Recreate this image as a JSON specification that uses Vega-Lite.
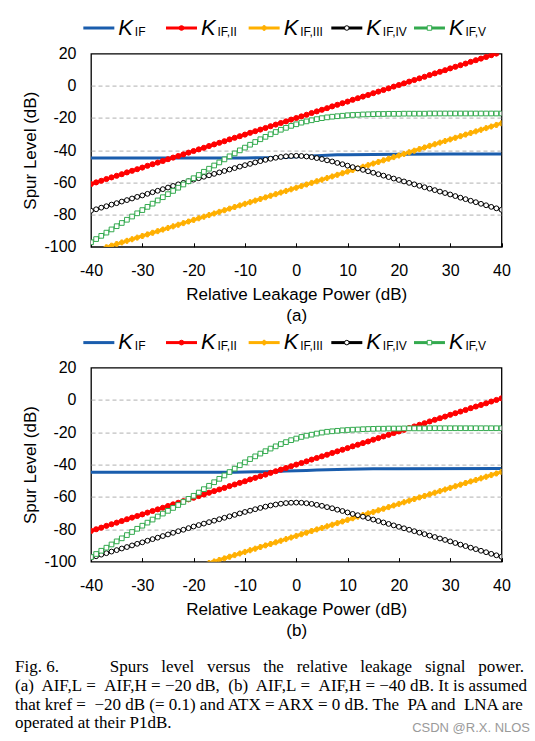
{
"$schema": "https://vega.github.io/schema/vega-lite/v6.json",
"padding": {"left": 14, "top": 14.6, "right": 0, "bottom": 0},
"spacing": 5,
"config": {
  "font": "Liberation Sans",
  "view": {"stroke": "#000", "strokeWidth": 1.3},
  "axis": {"labelFont": "Liberation Sans", "labelFontSize": 16, "labelColor": "#000", "titleFont": "Liberation Sans", "titleFontSize": 17, "titleFontWeight": "normal", "titleColor": "#000"}
},
"title": {"text": "CSDN @R.X. NLOS", "orient": "bottom", "anchor": "end", "frame": "bounds", "offset": -10, "fontSize": 13, "font": "Liberation Sans", "fontWeight": "normal", "color": "#9a9a9a", "baseline": "top"},
"resolve": {"scale": {"x": "independent", "y": "independent", "strokeWidth": "independent", "size": "independent"}},
"datasets": {
"leg": [{"k":"KIF","sub":"IF"},{"k":"KIF,II","sub":"IF,II"},{"k":"KIF,III","sub":"IF,III"},{"k":"KIF,IV","sub":"IF,IV"},{"k":"KIF,V","sub":"IF,V"}],
"a": [
{"x":-40,"k":"KIF","y":-44.8},{"x":-20,"k":"KIF","y":-44.8},{"x":-10,"k":"KIF","y":-44.8},{"x":-6,"k":"KIF","y":-44.7},{"x":-4,"k":"KIF","y":-44.6},{"x":-2,"k":"KIF","y":-44.4},{"x":0,"k":"KIF","y":-44.1},{"x":2,"k":"KIF","y":-43.7},{"x":4,"k":"KIF","y":-43.4},{"x":6,"k":"KIF","y":-43.1},{"x":8,"k":"KIF","y":-42.9},{"x":10,"k":"KIF","y":-42.8},{"x":15,"k":"KIF","y":-42.6},{"x":20,"k":"KIF","y":-42.5},{"x":30,"k":"KIF","y":-42.4},{"x":40,"k":"KIF","y":-42.4},
{"x":-40,"k":"KIF,II","y":-61.0},{"x":-39,"k":"KIF,II","y":-60.0},{"x":-38,"k":"KIF,II","y":-59.0},{"x":-37,"k":"KIF,II","y":-57.9},{"x":-36,"k":"KIF,II","y":-56.9},{"x":-35,"k":"KIF,II","y":-55.9},{"x":-34,"k":"KIF,II","y":-54.9},{"x":-33,"k":"KIF,II","y":-53.8},{"x":-32,"k":"KIF,II","y":-52.8},{"x":-31,"k":"KIF,II","y":-51.8},
{"x":-30,"k":"KIF,II","y":-50.8},{"x":-29,"k":"KIF,II","y":-49.7},{"x":-28,"k":"KIF,II","y":-48.7},{"x":-27,"k":"KIF,II","y":-47.7},{"x":-26,"k":"KIF,II","y":-46.7},{"x":-25,"k":"KIF,II","y":-45.6},{"x":-24,"k":"KIF,II","y":-44.6},{"x":-23,"k":"KIF,II","y":-43.6},{"x":-22,"k":"KIF,II","y":-42.6},{"x":-21,"k":"KIF,II","y":-41.5},
{"x":-20,"k":"KIF,II","y":-40.5},{"x":-19,"k":"KIF,II","y":-39.5},{"x":-18,"k":"KIF,II","y":-38.5},{"x":-17,"k":"KIF,II","y":-37.4},{"x":-16,"k":"KIF,II","y":-36.4},{"x":-15,"k":"KIF,II","y":-35.4},{"x":-14,"k":"KIF,II","y":-34.4},{"x":-13,"k":"KIF,II","y":-33.3},{"x":-12,"k":"KIF,II","y":-32.3},{"x":-11,"k":"KIF,II","y":-31.3},
{"x":-10,"k":"KIF,II","y":-30.3},{"x":-9,"k":"KIF,II","y":-29.2},{"x":-8,"k":"KIF,II","y":-28.2},{"x":-7,"k":"KIF,II","y":-27.2},{"x":-6,"k":"KIF,II","y":-26.2},{"x":-5,"k":"KIF,II","y":-25.1},{"x":-4,"k":"KIF,II","y":-24.1},{"x":-3,"k":"KIF,II","y":-23.1},{"x":-2,"k":"KIF,II","y":-22.1},{"x":-1,"k":"KIF,II","y":-21.0},
{"x":0,"k":"KIF,II","y":-20.0},{"x":1,"k":"KIF,II","y":-19.0},{"x":2,"k":"KIF,II","y":-18.0},{"x":3,"k":"KIF,II","y":-16.9},{"x":4,"k":"KIF,II","y":-15.9},{"x":5,"k":"KIF,II","y":-14.9},{"x":6,"k":"KIF,II","y":-13.9},{"x":7,"k":"KIF,II","y":-12.8},{"x":8,"k":"KIF,II","y":-11.8},{"x":9,"k":"KIF,II","y":-10.8},
{"x":10,"k":"KIF,II","y":-9.8},{"x":11,"k":"KIF,II","y":-8.7},{"x":12,"k":"KIF,II","y":-7.7},{"x":13,"k":"KIF,II","y":-6.7},{"x":14,"k":"KIF,II","y":-5.7},{"x":15,"k":"KIF,II","y":-4.6},{"x":16,"k":"KIF,II","y":-3.6},{"x":17,"k":"KIF,II","y":-2.6},{"x":18,"k":"KIF,II","y":-1.6},{"x":19,"k":"KIF,II","y":-0.5},
{"x":20,"k":"KIF,II","y":0.5},{"x":21,"k":"KIF,II","y":1.5},{"x":22,"k":"KIF,II","y":2.6},{"x":23,"k":"KIF,II","y":3.6},{"x":24,"k":"KIF,II","y":4.6},{"x":25,"k":"KIF,II","y":5.6},{"x":26,"k":"KIF,II","y":6.7},{"x":27,"k":"KIF,II","y":7.7},{"x":28,"k":"KIF,II","y":8.7},{"x":29,"k":"KIF,II","y":9.7},
{"x":30,"k":"KIF,II","y":10.8},{"x":31,"k":"KIF,II","y":11.8},{"x":32,"k":"KIF,II","y":12.8},{"x":33,"k":"KIF,II","y":13.8},{"x":34,"k":"KIF,II","y":14.9},{"x":35,"k":"KIF,II","y":15.9},{"x":36,"k":"KIF,II","y":16.9},{"x":37,"k":"KIF,II","y":17.9},{"x":38,"k":"KIF,II","y":19.0},{"x":39,"k":"KIF,II","y":20.0},
{"x":-37,"k":"KIF,III","y":-100.3},{"x":-36,"k":"KIF,III","y":-99.3},{"x":-35,"k":"KIF,III","y":-98.3},{"x":-34,"k":"KIF,III","y":-97.3},{"x":-33,"k":"KIF,III","y":-96.3},{"x":-32,"k":"KIF,III","y":-95.3},{"x":-31,"k":"KIF,III","y":-94.3},
{"x":-30,"k":"KIF,III","y":-93.3},{"x":-29,"k":"KIF,III","y":-92.3},{"x":-28,"k":"KIF,III","y":-91.3},{"x":-27,"k":"KIF,III","y":-90.3},{"x":-26,"k":"KIF,III","y":-89.3},{"x":-25,"k":"KIF,III","y":-88.3},{"x":-24,"k":"KIF,III","y":-87.3},{"x":-23,"k":"KIF,III","y":-86.3},{"x":-22,"k":"KIF,III","y":-85.3},{"x":-21,"k":"KIF,III","y":-84.3},
{"x":-20,"k":"KIF,III","y":-83.3},{"x":-19,"k":"KIF,III","y":-82.3},{"x":-18,"k":"KIF,III","y":-81.3},{"x":-17,"k":"KIF,III","y":-80.3},{"x":-16,"k":"KIF,III","y":-79.3},{"x":-15,"k":"KIF,III","y":-78.3},{"x":-14,"k":"KIF,III","y":-77.3},{"x":-13,"k":"KIF,III","y":-76.3},{"x":-12,"k":"KIF,III","y":-75.3},{"x":-11,"k":"KIF,III","y":-74.3},
{"x":-10,"k":"KIF,III","y":-73.3},{"x":-9,"k":"KIF,III","y":-72.3},{"x":-8,"k":"KIF,III","y":-71.3},{"x":-7,"k":"KIF,III","y":-70.3},{"x":-6,"k":"KIF,III","y":-69.3},{"x":-5,"k":"KIF,III","y":-68.3},{"x":-4,"k":"KIF,III","y":-67.3},{"x":-3,"k":"KIF,III","y":-66.3},{"x":-2,"k":"KIF,III","y":-65.3},{"x":-1,"k":"KIF,III","y":-64.3},
{"x":0,"k":"KIF,III","y":-63.3},{"x":1,"k":"KIF,III","y":-62.3},{"x":2,"k":"KIF,III","y":-61.3},{"x":3,"k":"KIF,III","y":-60.3},{"x":4,"k":"KIF,III","y":-59.3},{"x":5,"k":"KIF,III","y":-58.3},{"x":6,"k":"KIF,III","y":-57.3},{"x":7,"k":"KIF,III","y":-56.3},{"x":8,"k":"KIF,III","y":-55.3},{"x":9,"k":"KIF,III","y":-54.3},
{"x":10,"k":"KIF,III","y":-53.3},{"x":11,"k":"KIF,III","y":-52.3},{"x":12,"k":"KIF,III","y":-51.3},{"x":13,"k":"KIF,III","y":-50.3},{"x":14,"k":"KIF,III","y":-49.3},{"x":15,"k":"KIF,III","y":-48.3},{"x":16,"k":"KIF,III","y":-47.3},{"x":17,"k":"KIF,III","y":-46.3},{"x":18,"k":"KIF,III","y":-45.3},{"x":19,"k":"KIF,III","y":-44.3},
{"x":20,"k":"KIF,III","y":-43.3},{"x":21,"k":"KIF,III","y":-42.3},{"x":22,"k":"KIF,III","y":-41.3},{"x":23,"k":"KIF,III","y":-40.3},{"x":24,"k":"KIF,III","y":-39.3},{"x":25,"k":"KIF,III","y":-38.3},{"x":26,"k":"KIF,III","y":-37.3},{"x":27,"k":"KIF,III","y":-36.3},{"x":28,"k":"KIF,III","y":-35.3},{"x":29,"k":"KIF,III","y":-34.3},
{"x":30,"k":"KIF,III","y":-33.3},{"x":31,"k":"KIF,III","y":-32.3},{"x":32,"k":"KIF,III","y":-31.3},{"x":33,"k":"KIF,III","y":-30.3},{"x":34,"k":"KIF,III","y":-29.3},{"x":35,"k":"KIF,III","y":-28.3},{"x":36,"k":"KIF,III","y":-27.3},{"x":37,"k":"KIF,III","y":-26.3},{"x":38,"k":"KIF,III","y":-25.3},{"x":39,"k":"KIF,III","y":-24.3},{"x":40,"k":"KIF,III","y":-23.3},
{"x":-40,"k":"KIF,IV","y":-77.6},{"x":-39,"k":"KIF,IV","y":-76.7},{"x":-38,"k":"KIF,IV","y":-75.7},{"x":-37,"k":"KIF,IV","y":-74.8},{"x":-36,"k":"KIF,IV","y":-73.8},{"x":-35,"k":"KIF,IV","y":-72.9},{"x":-34,"k":"KIF,IV","y":-71.9},{"x":-33,"k":"KIF,IV","y":-71.0},{"x":-32,"k":"KIF,IV","y":-70.0},{"x":-31,"k":"KIF,IV","y":-69.0},
{"x":-30,"k":"KIF,IV","y":-68.1},{"x":-29,"k":"KIF,IV","y":-67.1},{"x":-28,"k":"KIF,IV","y":-66.1},{"x":-27,"k":"KIF,IV","y":-65.2},{"x":-26,"k":"KIF,IV","y":-64.2},{"x":-25,"k":"KIF,IV","y":-63.2},{"x":-24,"k":"KIF,IV","y":-62.2},{"x":-23,"k":"KIF,IV","y":-61.2},{"x":-22,"k":"KIF,IV","y":-60.3},{"x":-21,"k":"KIF,IV","y":-59.3},
{"x":-20,"k":"KIF,IV","y":-58.3},{"x":-19,"k":"KIF,IV","y":-57.4},{"x":-18,"k":"KIF,IV","y":-56.5},{"x":-17,"k":"KIF,IV","y":-55.6},{"x":-16,"k":"KIF,IV","y":-54.7},{"x":-15,"k":"KIF,IV","y":-53.8},{"x":-14,"k":"KIF,IV","y":-52.9},{"x":-13,"k":"KIF,IV","y":-52.0},{"x":-12,"k":"KIF,IV","y":-51.1},{"x":-11,"k":"KIF,IV","y":-50.2},
{"x":-10,"k":"KIF,IV","y":-49.3},{"x":-9,"k":"KIF,IV","y":-48.5},{"x":-8,"k":"KIF,IV","y":-47.6},{"x":-7,"k":"KIF,IV","y":-46.8},{"x":-6,"k":"KIF,IV","y":-46.0},{"x":-5,"k":"KIF,IV","y":-45.3},{"x":-4,"k":"KIF,IV","y":-44.7},{"x":-3,"k":"KIF,IV","y":-44.2},{"x":-2,"k":"KIF,IV","y":-43.8},{"x":-1,"k":"KIF,IV","y":-43.6},
{"x":0,"k":"KIF,IV","y":-43.5},{"x":1,"k":"KIF,IV","y":-43.6},{"x":2,"k":"KIF,IV","y":-43.9},{"x":3,"k":"KIF,IV","y":-44.3},{"x":4,"k":"KIF,IV","y":-44.9},{"x":5,"k":"KIF,IV","y":-45.5},{"x":6,"k":"KIF,IV","y":-46.3},{"x":7,"k":"KIF,IV","y":-47.0},{"x":8,"k":"KIF,IV","y":-47.9},{"x":9,"k":"KIF,IV","y":-48.7},
{"x":10,"k":"KIF,IV","y":-49.6},{"x":11,"k":"KIF,IV","y":-50.5},{"x":12,"k":"KIF,IV","y":-51.3},{"x":13,"k":"KIF,IV","y":-52.2},{"x":14,"k":"KIF,IV","y":-53.1},{"x":15,"k":"KIF,IV","y":-54.0},{"x":16,"k":"KIF,IV","y":-54.9},{"x":17,"k":"KIF,IV","y":-55.8},{"x":18,"k":"KIF,IV","y":-56.7},{"x":19,"k":"KIF,IV","y":-57.6},
{"x":20,"k":"KIF,IV","y":-58.5},{"x":21,"k":"KIF,IV","y":-59.4},{"x":22,"k":"KIF,IV","y":-60.3},{"x":23,"k":"KIF,IV","y":-61.2},{"x":24,"k":"KIF,IV","y":-62.1},{"x":25,"k":"KIF,IV","y":-63.0},{"x":26,"k":"KIF,IV","y":-63.9},{"x":27,"k":"KIF,IV","y":-64.8},{"x":28,"k":"KIF,IV","y":-65.7},{"x":29,"k":"KIF,IV","y":-66.6},
{"x":30,"k":"KIF,IV","y":-67.5},{"x":31,"k":"KIF,IV","y":-68.5},{"x":32,"k":"KIF,IV","y":-69.5},{"x":33,"k":"KIF,IV","y":-70.4},{"x":34,"k":"KIF,IV","y":-71.4},{"x":35,"k":"KIF,IV","y":-72.3},{"x":36,"k":"KIF,IV","y":-73.3},{"x":37,"k":"KIF,IV","y":-74.2},{"x":38,"k":"KIF,IV","y":-75.2},{"x":39,"k":"KIF,IV","y":-76.1},{"x":40,"k":"KIF,IV","y":-77.0},
{"x":-40,"k":"KIF,V","y":-97.2},{"x":-39,"k":"KIF,V","y":-95.2},{"x":-38,"k":"KIF,V","y":-93.2},{"x":-37,"k":"KIF,V","y":-91.2},{"x":-36,"k":"KIF,V","y":-89.2},{"x":-35,"k":"KIF,V","y":-87.2},{"x":-34,"k":"KIF,V","y":-85.2},{"x":-33,"k":"KIF,V","y":-83.2},{"x":-32,"k":"KIF,V","y":-81.2},{"x":-31,"k":"KIF,V","y":-79.2},
{"x":-30,"k":"KIF,V","y":-77.2},{"x":-29,"k":"KIF,V","y":-75.2},{"x":-28,"k":"KIF,V","y":-73.2},{"x":-27,"k":"KIF,V","y":-71.2},{"x":-26,"k":"KIF,V","y":-69.2},{"x":-25,"k":"KIF,V","y":-67.3},{"x":-24,"k":"KIF,V","y":-65.3},{"x":-23,"k":"KIF,V","y":-63.3},{"x":-22,"k":"KIF,V","y":-61.3},{"x":-21,"k":"KIF,V","y":-59.3},
{"x":-20,"k":"KIF,V","y":-57.4},{"x":-19,"k":"KIF,V","y":-55.4},{"x":-18,"k":"KIF,V","y":-53.4},{"x":-17,"k":"KIF,V","y":-51.5},{"x":-16,"k":"KIF,V","y":-49.5},{"x":-15,"k":"KIF,V","y":-47.6},{"x":-14,"k":"KIF,V","y":-45.7},{"x":-13,"k":"KIF,V","y":-43.8},{"x":-12,"k":"KIF,V","y":-42.0},{"x":-11,"k":"KIF,V","y":-40.1},
{"x":-10,"k":"KIF,V","y":-38.4},{"x":-9,"k":"KIF,V","y":-36.6},{"x":-8,"k":"KIF,V","y":-34.9},{"x":-7,"k":"KIF,V","y":-33.2},{"x":-6,"k":"KIF,V","y":-31.7},{"x":-5,"k":"KIF,V","y":-30.1},{"x":-4,"k":"KIF,V","y":-28.7},{"x":-3,"k":"KIF,V","y":-27.3},{"x":-2,"k":"KIF,V","y":-26.1},{"x":-1,"k":"KIF,V","y":-24.9},
{"x":0,"k":"KIF,V","y":-23.9},{"x":1,"k":"KIF,V","y":-22.9},{"x":2,"k":"KIF,V","y":-22.1},{"x":3,"k":"KIF,V","y":-21.4},{"x":4,"k":"KIF,V","y":-20.7},{"x":5,"k":"KIF,V","y":-20.1},{"x":6,"k":"KIF,V","y":-19.6},{"x":7,"k":"KIF,V","y":-19.2},{"x":8,"k":"KIF,V","y":-18.9},{"x":9,"k":"KIF,V","y":-18.6},
{"x":10,"k":"KIF,V","y":-18.3},{"x":11,"k":"KIF,V","y":-18.1},{"x":12,"k":"KIF,V","y":-18.0},{"x":13,"k":"KIF,V","y":-17.8},{"x":14,"k":"KIF,V","y":-17.7},{"x":15,"k":"KIF,V","y":-17.6},{"x":16,"k":"KIF,V","y":-17.5},{"x":17,"k":"KIF,V","y":-17.5},{"x":18,"k":"KIF,V","y":-17.4},{"x":19,"k":"KIF,V","y":-17.4},
{"x":20,"k":"KIF,V","y":-17.4},{"x":21,"k":"KIF,V","y":-17.3},{"x":22,"k":"KIF,V","y":-17.3},{"x":23,"k":"KIF,V","y":-17.3},{"x":24,"k":"KIF,V","y":-17.3},{"x":25,"k":"KIF,V","y":-17.3},{"x":26,"k":"KIF,V","y":-17.2},{"x":27,"k":"KIF,V","y":-17.2},{"x":28,"k":"KIF,V","y":-17.2},{"x":29,"k":"KIF,V","y":-17.2},
{"x":30,"k":"KIF,V","y":-17.2},{"x":31,"k":"KIF,V","y":-17.2},{"x":32,"k":"KIF,V","y":-17.2},{"x":33,"k":"KIF,V","y":-17.2},{"x":34,"k":"KIF,V","y":-17.2},{"x":35,"k":"KIF,V","y":-17.2},{"x":36,"k":"KIF,V","y":-17.2},{"x":37,"k":"KIF,V","y":-17.2},{"x":38,"k":"KIF,V","y":-17.2},{"x":39,"k":"KIF,V","y":-17.2},{"x":40,"k":"KIF,V","y":-17.2}
],
"b": [
{"x":-40,"k":"KIF","y":-44.7},{"x":-20,"k":"KIF","y":-44.7},{"x":-12,"k":"KIF","y":-44.7},{"x":-10,"k":"KIF","y":-44.6},{"x":-8,"k":"KIF","y":-44.5},{"x":-6,"k":"KIF","y":-44.4},{"x":-4,"k":"KIF","y":-44.2},{"x":-2,"k":"KIF","y":-44.0},{"x":0,"k":"KIF","y":-43.8},{"x":2,"k":"KIF","y":-43.6},{"x":4,"k":"KIF","y":-43.4},{"x":6,"k":"KIF","y":-43.2},{"x":8,"k":"KIF","y":-43.0},{"x":10,"k":"KIF","y":-42.9},{"x":15,"k":"KIF","y":-42.6},{"x":20,"k":"KIF","y":-42.5},{"x":40,"k":"KIF","y":-42.4},
{"x":-40,"k":"KIF,II","y":-81.0},{"x":-39,"k":"KIF,II","y":-80.0},{"x":-38,"k":"KIF,II","y":-79.0},{"x":-37,"k":"KIF,II","y":-77.9},{"x":-36,"k":"KIF,II","y":-76.9},{"x":-35,"k":"KIF,II","y":-75.9},{"x":-34,"k":"KIF,II","y":-74.9},{"x":-33,"k":"KIF,II","y":-73.8},{"x":-32,"k":"KIF,II","y":-72.8},{"x":-31,"k":"KIF,II","y":-71.8},
{"x":-30,"k":"KIF,II","y":-70.8},{"x":-29,"k":"KIF,II","y":-69.7},{"x":-28,"k":"KIF,II","y":-68.7},{"x":-27,"k":"KIF,II","y":-67.7},{"x":-26,"k":"KIF,II","y":-66.7},{"x":-25,"k":"KIF,II","y":-65.6},{"x":-24,"k":"KIF,II","y":-64.6},{"x":-23,"k":"KIF,II","y":-63.6},{"x":-22,"k":"KIF,II","y":-62.6},{"x":-21,"k":"KIF,II","y":-61.5},
{"x":-20,"k":"KIF,II","y":-60.5},{"x":-19,"k":"KIF,II","y":-59.5},{"x":-18,"k":"KIF,II","y":-58.5},{"x":-17,"k":"KIF,II","y":-57.4},{"x":-16,"k":"KIF,II","y":-56.4},{"x":-15,"k":"KIF,II","y":-55.4},{"x":-14,"k":"KIF,II","y":-54.4},{"x":-13,"k":"KIF,II","y":-53.3},{"x":-12,"k":"KIF,II","y":-52.3},{"x":-11,"k":"KIF,II","y":-51.3},
{"x":-10,"k":"KIF,II","y":-50.3},{"x":-9,"k":"KIF,II","y":-49.2},{"x":-8,"k":"KIF,II","y":-48.2},{"x":-7,"k":"KIF,II","y":-47.2},{"x":-6,"k":"KIF,II","y":-46.2},{"x":-5,"k":"KIF,II","y":-45.1},{"x":-4,"k":"KIF,II","y":-44.1},{"x":-3,"k":"KIF,II","y":-43.1},{"x":-2,"k":"KIF,II","y":-42.1},{"x":-1,"k":"KIF,II","y":-41.0},
{"x":0,"k":"KIF,II","y":-40.0},{"x":1,"k":"KIF,II","y":-39.0},{"x":2,"k":"KIF,II","y":-38.0},{"x":3,"k":"KIF,II","y":-36.9},{"x":4,"k":"KIF,II","y":-35.9},{"x":5,"k":"KIF,II","y":-34.9},{"x":6,"k":"KIF,II","y":-33.9},{"x":7,"k":"KIF,II","y":-32.8},{"x":8,"k":"KIF,II","y":-31.8},{"x":9,"k":"KIF,II","y":-30.8},
{"x":10,"k":"KIF,II","y":-29.8},{"x":11,"k":"KIF,II","y":-28.7},{"x":12,"k":"KIF,II","y":-27.7},{"x":13,"k":"KIF,II","y":-26.7},{"x":14,"k":"KIF,II","y":-25.7},{"x":15,"k":"KIF,II","y":-24.6},{"x":16,"k":"KIF,II","y":-23.6},{"x":17,"k":"KIF,II","y":-22.6},{"x":18,"k":"KIF,II","y":-21.6},{"x":19,"k":"KIF,II","y":-20.5},
{"x":20,"k":"KIF,II","y":-19.5},{"x":21,"k":"KIF,II","y":-18.5},{"x":22,"k":"KIF,II","y":-17.4},{"x":23,"k":"KIF,II","y":-16.4},{"x":24,"k":"KIF,II","y":-15.4},{"x":25,"k":"KIF,II","y":-14.4},{"x":26,"k":"KIF,II","y":-13.3},{"x":27,"k":"KIF,II","y":-12.3},{"x":28,"k":"KIF,II","y":-11.3},{"x":29,"k":"KIF,II","y":-10.3},
{"x":30,"k":"KIF,II","y":-9.2},{"x":31,"k":"KIF,II","y":-8.2},{"x":32,"k":"KIF,II","y":-7.2},{"x":33,"k":"KIF,II","y":-6.2},{"x":34,"k":"KIF,II","y":-5.1},{"x":35,"k":"KIF,II","y":-4.1},{"x":36,"k":"KIF,II","y":-3.1},{"x":37,"k":"KIF,II","y":-2.1},{"x":38,"k":"KIF,II","y":-1.0},{"x":39,"k":"KIF,II","y":0.0},{"x":40,"k":"KIF,II","y":1.0},
{"x":-17,"k":"KIF,III","y":-100.9},{"x":-16,"k":"KIF,III","y":-99.9},{"x":-15,"k":"KIF,III","y":-99.0},{"x":-14,"k":"KIF,III","y":-98.0},{"x":-13,"k":"KIF,III","y":-97.0},{"x":-12,"k":"KIF,III","y":-96.0},{"x":-11,"k":"KIF,III","y":-95.0},
{"x":-10,"k":"KIF,III","y":-94.0},{"x":-9,"k":"KIF,III","y":-93.0},{"x":-8,"k":"KIF,III","y":-92.0},{"x":-7,"k":"KIF,III","y":-91.0},{"x":-6,"k":"KIF,III","y":-90.0},{"x":-5,"k":"KIF,III","y":-89.1},{"x":-4,"k":"KIF,III","y":-88.1},{"x":-3,"k":"KIF,III","y":-87.1},{"x":-2,"k":"KIF,III","y":-86.1},{"x":-1,"k":"KIF,III","y":-85.1},
{"x":0,"k":"KIF,III","y":-84.1},{"x":1,"k":"KIF,III","y":-83.1},{"x":2,"k":"KIF,III","y":-82.1},{"x":3,"k":"KIF,III","y":-81.1},{"x":4,"k":"KIF,III","y":-80.1},{"x":5,"k":"KIF,III","y":-79.2},{"x":6,"k":"KIF,III","y":-78.2},{"x":7,"k":"KIF,III","y":-77.2},{"x":8,"k":"KIF,III","y":-76.2},{"x":9,"k":"KIF,III","y":-75.2},
{"x":10,"k":"KIF,III","y":-74.2},{"x":11,"k":"KIF,III","y":-73.2},{"x":12,"k":"KIF,III","y":-72.2},{"x":13,"k":"KIF,III","y":-71.2},{"x":14,"k":"KIF,III","y":-70.2},{"x":15,"k":"KIF,III","y":-69.3},{"x":16,"k":"KIF,III","y":-68.3},{"x":17,"k":"KIF,III","y":-67.3},{"x":18,"k":"KIF,III","y":-66.3},{"x":19,"k":"KIF,III","y":-65.3},
{"x":20,"k":"KIF,III","y":-64.3},{"x":21,"k":"KIF,III","y":-63.3},{"x":22,"k":"KIF,III","y":-62.3},{"x":23,"k":"KIF,III","y":-61.3},{"x":24,"k":"KIF,III","y":-60.3},{"x":25,"k":"KIF,III","y":-59.4},{"x":26,"k":"KIF,III","y":-58.4},{"x":27,"k":"KIF,III","y":-57.4},{"x":28,"k":"KIF,III","y":-56.4},{"x":29,"k":"KIF,III","y":-55.4},
{"x":30,"k":"KIF,III","y":-54.4},{"x":31,"k":"KIF,III","y":-53.4},{"x":32,"k":"KIF,III","y":-52.4},{"x":33,"k":"KIF,III","y":-51.4},{"x":34,"k":"KIF,III","y":-50.4},{"x":35,"k":"KIF,III","y":-49.5},{"x":36,"k":"KIF,III","y":-48.5},{"x":37,"k":"KIF,III","y":-47.5},{"x":38,"k":"KIF,III","y":-46.5},{"x":39,"k":"KIF,III","y":-45.5},{"x":40,"k":"KIF,III","y":-44.5},
{"x":-40,"k":"KIF,IV","y":-97.6},{"x":-39,"k":"KIF,IV","y":-96.7},{"x":-38,"k":"KIF,IV","y":-95.7},{"x":-37,"k":"KIF,IV","y":-94.8},{"x":-36,"k":"KIF,IV","y":-93.8},{"x":-35,"k":"KIF,IV","y":-92.9},{"x":-34,"k":"KIF,IV","y":-91.9},{"x":-33,"k":"KIF,IV","y":-91.0},{"x":-32,"k":"KIF,IV","y":-90.0},{"x":-31,"k":"KIF,IV","y":-89.0},
{"x":-30,"k":"KIF,IV","y":-88.1},{"x":-29,"k":"KIF,IV","y":-87.1},{"x":-28,"k":"KIF,IV","y":-86.1},{"x":-27,"k":"KIF,IV","y":-85.2},{"x":-26,"k":"KIF,IV","y":-84.2},{"x":-25,"k":"KIF,IV","y":-83.2},{"x":-24,"k":"KIF,IV","y":-82.2},{"x":-23,"k":"KIF,IV","y":-81.2},{"x":-22,"k":"KIF,IV","y":-80.3},{"x":-21,"k":"KIF,IV","y":-79.3},
{"x":-20,"k":"KIF,IV","y":-78.3},{"x":-19,"k":"KIF,IV","y":-77.4},{"x":-18,"k":"KIF,IV","y":-76.5},{"x":-17,"k":"KIF,IV","y":-75.6},{"x":-16,"k":"KIF,IV","y":-74.7},{"x":-15,"k":"KIF,IV","y":-73.8},{"x":-14,"k":"KIF,IV","y":-72.9},{"x":-13,"k":"KIF,IV","y":-72.0},{"x":-12,"k":"KIF,IV","y":-71.1},{"x":-11,"k":"KIF,IV","y":-70.2},
{"x":-10,"k":"KIF,IV","y":-69.3},{"x":-9,"k":"KIF,IV","y":-68.5},{"x":-8,"k":"KIF,IV","y":-67.6},{"x":-7,"k":"KIF,IV","y":-66.8},{"x":-6,"k":"KIF,IV","y":-66.0},{"x":-5,"k":"KIF,IV","y":-65.3},{"x":-4,"k":"KIF,IV","y":-64.7},{"x":-3,"k":"KIF,IV","y":-64.2},{"x":-2,"k":"KIF,IV","y":-63.8},{"x":-1,"k":"KIF,IV","y":-63.6},
{"x":0,"k":"KIF,IV","y":-63.5},{"x":1,"k":"KIF,IV","y":-63.6},{"x":2,"k":"KIF,IV","y":-63.9},{"x":3,"k":"KIF,IV","y":-64.3},{"x":4,"k":"KIF,IV","y":-64.9},{"x":5,"k":"KIF,IV","y":-65.5},{"x":6,"k":"KIF,IV","y":-66.3},{"x":7,"k":"KIF,IV","y":-67.0},{"x":8,"k":"KIF,IV","y":-67.9},{"x":9,"k":"KIF,IV","y":-68.7},
{"x":10,"k":"KIF,IV","y":-69.6},{"x":11,"k":"KIF,IV","y":-70.5},{"x":12,"k":"KIF,IV","y":-71.3},{"x":13,"k":"KIF,IV","y":-72.2},{"x":14,"k":"KIF,IV","y":-73.1},{"x":15,"k":"KIF,IV","y":-74.0},{"x":16,"k":"KIF,IV","y":-74.9},{"x":17,"k":"KIF,IV","y":-75.8},{"x":18,"k":"KIF,IV","y":-76.7},{"x":19,"k":"KIF,IV","y":-77.6},
{"x":20,"k":"KIF,IV","y":-78.5},{"x":21,"k":"KIF,IV","y":-79.4},{"x":22,"k":"KIF,IV","y":-80.3},{"x":23,"k":"KIF,IV","y":-81.2},{"x":24,"k":"KIF,IV","y":-82.1},{"x":25,"k":"KIF,IV","y":-83.0},{"x":26,"k":"KIF,IV","y":-83.9},{"x":27,"k":"KIF,IV","y":-84.8},{"x":28,"k":"KIF,IV","y":-85.7},{"x":29,"k":"KIF,IV","y":-86.6},
{"x":30,"k":"KIF,IV","y":-87.5},{"x":31,"k":"KIF,IV","y":-88.5},{"x":32,"k":"KIF,IV","y":-89.5},{"x":33,"k":"KIF,IV","y":-90.4},{"x":34,"k":"KIF,IV","y":-91.4},{"x":35,"k":"KIF,IV","y":-92.3},{"x":36,"k":"KIF,IV","y":-93.3},{"x":37,"k":"KIF,IV","y":-94.2},{"x":38,"k":"KIF,IV","y":-95.2},{"x":39,"k":"KIF,IV","y":-96.1},{"x":40,"k":"KIF,IV","y":-97.0},
{"x":-40,"k":"KIF,V","y":-97.2},{"x":-39,"k":"KIF,V","y":-95.3},{"x":-38,"k":"KIF,V","y":-93.3},{"x":-37,"k":"KIF,V","y":-91.4},{"x":-36,"k":"KIF,V","y":-89.4},{"x":-35,"k":"KIF,V","y":-87.5},{"x":-34,"k":"KIF,V","y":-85.6},{"x":-33,"k":"KIF,V","y":-83.6},{"x":-32,"k":"KIF,V","y":-81.7},{"x":-31,"k":"KIF,V","y":-79.7},
{"x":-30,"k":"KIF,V","y":-77.8},{"x":-29,"k":"KIF,V","y":-75.9},{"x":-28,"k":"KIF,V","y":-74.0},{"x":-27,"k":"KIF,V","y":-72.1},{"x":-26,"k":"KIF,V","y":-70.3},{"x":-25,"k":"KIF,V","y":-68.6},{"x":-24,"k":"KIF,V","y":-66.8},{"x":-23,"k":"KIF,V","y":-65.0},{"x":-22,"k":"KIF,V","y":-63.1},{"x":-21,"k":"KIF,V","y":-61.2},
{"x":-20,"k":"KIF,V","y":-59.3},{"x":-19,"k":"KIF,V","y":-57.3},{"x":-18,"k":"KIF,V","y":-55.2},{"x":-17,"k":"KIF,V","y":-53.1},{"x":-16,"k":"KIF,V","y":-50.9},{"x":-15,"k":"KIF,V","y":-48.8},{"x":-14,"k":"KIF,V","y":-46.7},{"x":-13,"k":"KIF,V","y":-44.6},{"x":-12,"k":"KIF,V","y":-42.5},{"x":-11,"k":"KIF,V","y":-40.4},
{"x":-10,"k":"KIF,V","y":-38.6},{"x":-9,"k":"KIF,V","y":-36.6},{"x":-8,"k":"KIF,V","y":-34.9},{"x":-7,"k":"KIF,V","y":-33.2},{"x":-6,"k":"KIF,V","y":-31.7},{"x":-5,"k":"KIF,V","y":-30.1},{"x":-4,"k":"KIF,V","y":-28.7},{"x":-3,"k":"KIF,V","y":-27.3},{"x":-2,"k":"KIF,V","y":-26.1},{"x":-1,"k":"KIF,V","y":-24.9},
{"x":0,"k":"KIF,V","y":-23.9},{"x":1,"k":"KIF,V","y":-22.9},{"x":2,"k":"KIF,V","y":-22.1},{"x":3,"k":"KIF,V","y":-21.5},{"x":4,"k":"KIF,V","y":-20.8},{"x":5,"k":"KIF,V","y":-20.2},{"x":6,"k":"KIF,V","y":-19.7},{"x":7,"k":"KIF,V","y":-19.4},{"x":8,"k":"KIF,V","y":-19.1},{"x":9,"k":"KIF,V","y":-18.8},
{"x":10,"k":"KIF,V","y":-18.6},{"x":11,"k":"KIF,V","y":-18.4},{"x":12,"k":"KIF,V","y":-18.3},{"x":13,"k":"KIF,V","y":-18.1},{"x":14,"k":"KIF,V","y":-18.0},{"x":15,"k":"KIF,V","y":-17.9},{"x":16,"k":"KIF,V","y":-17.8},{"x":17,"k":"KIF,V","y":-17.8},{"x":18,"k":"KIF,V","y":-17.7},{"x":19,"k":"KIF,V","y":-17.7},
{"x":20,"k":"KIF,V","y":-17.7},{"x":21,"k":"KIF,V","y":-17.6},{"x":22,"k":"KIF,V","y":-17.6},{"x":23,"k":"KIF,V","y":-17.6},{"x":24,"k":"KIF,V","y":-17.6},{"x":25,"k":"KIF,V","y":-17.6},{"x":26,"k":"KIF,V","y":-17.5},{"x":27,"k":"KIF,V","y":-17.5},{"x":28,"k":"KIF,V","y":-17.5},{"x":29,"k":"KIF,V","y":-17.5},
{"x":30,"k":"KIF,V","y":-17.5},{"x":31,"k":"KIF,V","y":-17.5},{"x":32,"k":"KIF,V","y":-17.5},{"x":33,"k":"KIF,V","y":-17.5},{"x":34,"k":"KIF,V","y":-17.5},{"x":35,"k":"KIF,V","y":-17.5},{"x":36,"k":"KIF,V","y":-17.5},{"x":37,"k":"KIF,V","y":-17.5},{"x":38,"k":"KIF,V","y":-17.5},{"x":39,"k":"KIF,V","y":-17.5},{"x":40,"k":"KIF,V","y":-17.5}
]
},
"vconcat": [
{
  "width": 410.5, "height": 24,
  "view": {"stroke": null},
  "data": {"name": "leg"},
  "encoding": {"x": {"field": "k", "type": "nominal", "sort": null, "scale": {"domain": ["KIF","KIF,II","KIF,III","KIF,IV","KIF,V"], "range": [-7.7, 405.6], "paddingInner": 0, "paddingOuter": 0}, "axis": null}},
  "layer": [
    {"mark": {"type": "rule", "xOffset": -41.3, "x2Offset": -10.3, "yOffset": 1.4, "strokeWidth": 3}, "encoding": {"x2": {"field": "k"}, "color": {"field": "k", "type": "nominal", "scale": {"domain": ["KIF","KIF,II","KIF,III","KIF,IV","KIF,V"], "range": ["#1A5DAD","#FF0000","#FFB000","#000000","#33AA4E"]}, "legend": null}}},
    {"transform": [{"filter": "datum.k !== 'KIF'"}], "mark": {"type": "point", "xOffset": -25.8, "yOffset": 1.4, "filled": true, "opacity": 1, "strokeWidth": 1},
     "encoding": {"shape": {"field": "k", "type": "nominal", "scale": {"domain": ["KIF,II","KIF,III","KIF,IV","KIF,V"], "range": ["circle","cross","circle","square"]}, "legend": null},
       "fill": {"field": "k", "type": "nominal", "scale": {"domain": ["KIF,II","KIF,III","KIF,IV","KIF,V"], "range": ["#FF0000","#FFB000","#FFFFFF","#FFFFFF"]}, "legend": null},
       "stroke": {"field": "k", "type": "nominal", "scale": {"domain": ["KIF,II","KIF,III","KIF,IV","KIF,V"], "range": ["#FF0000","#FFB000","#000000","#33AA4E"]}, "legend": null},
       "size": {"field": "k", "type": "nominal", "scale": {"domain": ["KIF,II","KIF,III","KIF,IV","KIF,V"], "range": [22,20,18,18]}, "legend": null}}},
    {"mark": {"type": "text", "font": "Liberation Sans", "fontStyle": "italic", "fontSize": 22, "align": "left", "baseline": "alphabetic", "dx": -6.3, "dy": 8.1, "color": "#000"}, "encoding": {"text": {"value": "K"}}},
    {"mark": {"type": "text", "font": "Liberation Sans", "fontSize": 12, "align": "left", "baseline": "alphabetic", "dx": 10.2, "dy": 9.1, "color": "#000"}, "encoding": {"text": {"field": "sub"}}}
  ]
},
{
  "width": 410.5, "height": 193.2,
  "data": {"name": "a"},
  "encoding": {
    "x": {"field": "x", "type": "quantitative", "scale": {"domain": [-40, 40], "nice": false, "zero": false},
      "axis": {"values": [-40,-30,-20,-10,0,10,20,30,40], "labelExpr": "toString(datum.value)", "grid": false, "domain": false, "ticks": true, "tickSize": -4, "tickColor": "#000", "labelPadding": 20, "labelFlush": false, "title": ["Relative Leakage Power (dB)", "(a)"], "titlePadding": 8, "titleLineHeight": 21}},
    "y": {"field": "y", "type": "quantitative", "scale": {"domain": [-100, 20], "nice": false, "zero": false},
      "axis": {"values": [-100,-80,-60,-40,-20,0,20], "labelExpr": "toString(datum.value)", "grid": true, "gridDash": [4,3], "gridColor": {"condition": {"test": "datum.value <= -100 || datum.value >= 20", "value": "transparent"}, "value": "#b0b0b0"}, "domain": false, "ticks": false, "labelPadding": 15, "title": "Spur Level (dB)", "titlePadding": 4}}
  },
  "layer": [
    {"mark": {"type": "line", "clip": true}, "encoding": {
      "color": {"field": "k", "type": "nominal", "scale": {"domain": ["KIF","KIF,II","KIF,III","KIF,IV","KIF,V"], "range": ["#1A5DAD","#FF0000","#FFB000","#000000","#33AA4E"]}, "legend": null},
      "strokeWidth": {"field": "k", "type": "nominal", "scale": {"domain": ["KIF","KIF,II","KIF,III","KIF,IV","KIF,V"], "range": [3, 2.5, 2.5, 1.2, 1.5]}, "legend": null}}},
    {"transform": [{"filter": "datum.k !== 'KIF'"}], "mark": {"type": "point", "filled": true, "opacity": 1, "strokeWidth": 1, "clip": true},
     "encoding": {"shape": {"field": "k", "type": "nominal", "scale": {"domain": ["KIF,II","KIF,III","KIF,IV","KIF,V"], "range": ["circle","cross","circle","square"]}, "legend": null},
       "fill": {"field": "k", "type": "nominal", "scale": {"domain": ["KIF,II","KIF,III","KIF,IV","KIF,V"], "range": ["#FF0000","#FFB000","#FFFFFF","#FFFFFF"]}, "legend": null},
       "stroke": {"field": "k", "type": "nominal", "scale": {"domain": ["KIF,II","KIF,III","KIF,IV","KIF,V"], "range": ["#FF0000","#FFB000","#000000","#33AA4E"]}, "legend": null},
       "size": {"field": "k", "type": "nominal", "scale": {"domain": ["KIF,II","KIF,III","KIF,IV","KIF,V"], "range": [26,22,17,18]}, "legend": null}}}
  ]
},
{
  "width": 410.5, "height": 24,
  "view": {"stroke": null},
  "data": {"name": "leg"},
  "encoding": {"x": {"field": "k", "type": "nominal", "sort": null, "scale": {"domain": ["KIF","KIF,II","KIF,III","KIF,IV","KIF,V"], "range": [-7.7, 405.6], "paddingInner": 0, "paddingOuter": 0}, "axis": null}},
  "layer": [
    {"mark": {"type": "rule", "xOffset": -41.3, "x2Offset": -10.3, "yOffset": 1.0, "strokeWidth": 3}, "encoding": {"x2": {"field": "k"}, "color": {"field": "k", "type": "nominal", "scale": {"domain": ["KIF","KIF,II","KIF,III","KIF,IV","KIF,V"], "range": ["#1A5DAD","#FF0000","#FFB000","#000000","#33AA4E"]}, "legend": null}}},
    {"transform": [{"filter": "datum.k !== 'KIF'"}], "mark": {"type": "point", "xOffset": -25.8, "yOffset": 1.0, "filled": true, "opacity": 1, "strokeWidth": 1},
     "encoding": {"shape": {"field": "k", "type": "nominal", "scale": {"domain": ["KIF,II","KIF,III","KIF,IV","KIF,V"], "range": ["circle","cross","circle","square"]}, "legend": null},
       "fill": {"field": "k", "type": "nominal", "scale": {"domain": ["KIF,II","KIF,III","KIF,IV","KIF,V"], "range": ["#FF0000","#FFB000","#FFFFFF","#FFFFFF"]}, "legend": null},
       "stroke": {"field": "k", "type": "nominal", "scale": {"domain": ["KIF,II","KIF,III","KIF,IV","KIF,V"], "range": ["#FF0000","#FFB000","#000000","#33AA4E"]}, "legend": null},
       "size": {"field": "k", "type": "nominal", "scale": {"domain": ["KIF,II","KIF,III","KIF,IV","KIF,V"], "range": [22,20,18,18]}, "legend": null}}},
    {"mark": {"type": "text", "font": "Liberation Sans", "fontStyle": "italic", "fontSize": 22, "align": "left", "baseline": "alphabetic", "dx": -6.3, "dy": 7.7, "color": "#000"}, "encoding": {"text": {"value": "K"}}},
    {"mark": {"type": "text", "font": "Liberation Sans", "fontSize": 12, "align": "left", "baseline": "alphabetic", "dx": 10.2, "dy": 8.7, "color": "#000"}, "encoding": {"text": {"field": "sub"}}}
  ]
},
{
  "width": 410.5, "height": 194,
  "data": {"name": "b"},
  "title": {"text": ["Fig. 6.\u00a0\u00a0\u00a0\u00a0\u00a0\u00a0\u00a0\u00a0\u00a0\u00a0\u00a0\u00a0Spurs\u00a0\u00a0\u00a0level\u00a0\u00a0\u00a0versus\u00a0\u00a0\u00a0the\u00a0\u00a0\u00a0relative\u00a0\u00a0\u00a0leakage\u00a0\u00a0\u00a0signal\u00a0\u00a0\u00a0power.", "(a)\u00a0 AIF,L\u00a0= \u00a0AIF,H\u00a0= \u221220 dB,\u00a0 (b)\u00a0 AIF,L\u00a0= \u00a0AIF,H\u00a0= \u221240 dB. It is assumed", "that kref\u00a0= \u00a0\u221220 dB (= 0.1) and ATX\u00a0= ARX\u00a0= 0 dB. The\u00a0 PA and\u00a0 LNA are", "operated at their P1dB."],
    "orient": "bottom", "anchor": "start", "frame": "group", "dx": -76, "offset": 20.7, "lineHeight": 18.7, "fontSize": 17, "font": "Liberation Serif", "fontWeight": "normal", "color": "#000", "baseline": "top", "align": "left"},
  "encoding": {
    "x": {"field": "x", "type": "quantitative", "scale": {"domain": [-40, 40], "nice": false, "zero": false},
      "axis": {"values": [-40,-30,-20,-10,0,10,20,30,40], "labelExpr": "toString(datum.value)", "grid": false, "domain": false, "ticks": true, "tickSize": -4, "tickColor": "#000", "labelPadding": 20, "labelFlush": false, "title": ["Relative Leakage Power (dB)", "(b)"], "titlePadding": 8, "titleLineHeight": 21}},
    "y": {"field": "y", "type": "quantitative", "scale": {"domain": [-100, 20], "nice": false, "zero": false},
      "axis": {"values": [-100,-80,-60,-40,-20,0,20], "labelExpr": "toString(datum.value)", "grid": true, "gridDash": [4,3], "gridColor": {"condition": {"test": "datum.value <= -100 || datum.value >= 20", "value": "transparent"}, "value": "#b0b0b0"}, "domain": false, "ticks": false, "labelPadding": 15, "title": "Spur Level (dB)", "titlePadding": 4}}
  },
  "layer": [
    {"mark": {"type": "line", "clip": true}, "encoding": {
      "color": {"field": "k", "type": "nominal", "scale": {"domain": ["KIF","KIF,II","KIF,III","KIF,IV","KIF,V"], "range": ["#1A5DAD","#FF0000","#FFB000","#000000","#33AA4E"]}, "legend": null},
      "strokeWidth": {"field": "k", "type": "nominal", "scale": {"domain": ["KIF","KIF,II","KIF,III","KIF,IV","KIF,V"], "range": [3, 2.5, 2.5, 1.2, 1.5]}, "legend": null}}},
    {"transform": [{"filter": "datum.k !== 'KIF'"}], "mark": {"type": "point", "filled": true, "opacity": 1, "strokeWidth": 1, "clip": true},
     "encoding": {"shape": {"field": "k", "type": "nominal", "scale": {"domain": ["KIF,II","KIF,III","KIF,IV","KIF,V"], "range": ["circle","cross","circle","square"]}, "legend": null},
       "fill": {"field": "k", "type": "nominal", "scale": {"domain": ["KIF,II","KIF,III","KIF,IV","KIF,V"], "range": ["#FF0000","#FFB000","#FFFFFF","#FFFFFF"]}, "legend": null},
       "stroke": {"field": "k", "type": "nominal", "scale": {"domain": ["KIF,II","KIF,III","KIF,IV","KIF,V"], "range": ["#FF0000","#FFB000","#000000","#33AA4E"]}, "legend": null},
       "size": {"field": "k", "type": "nominal", "scale": {"domain": ["KIF,II","KIF,III","KIF,IV","KIF,V"], "range": [26,22,17,18]}, "legend": null}}}
  ]
}
]
}
